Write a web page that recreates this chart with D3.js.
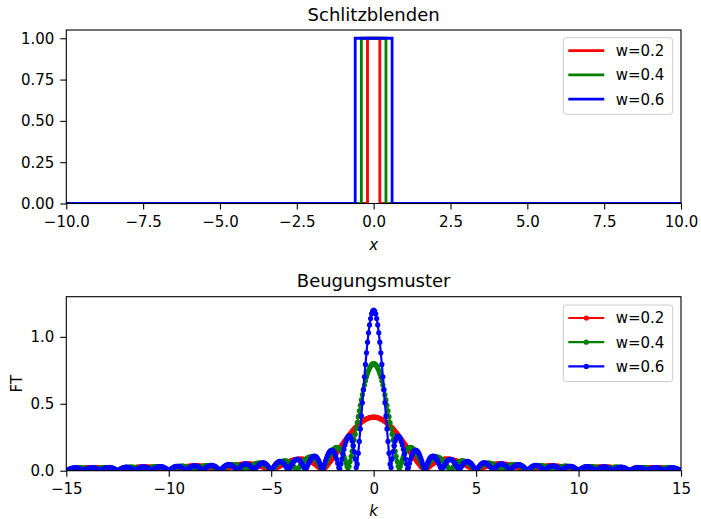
<!DOCTYPE html>
<html>
<head>
<meta charset="utf-8">
<script src="https://cdn.jsdelivr.net/npm/d3@7"></script>
<style>
  body { margin: 0; background: #fff; }
  svg { display: block; font-family: "DejaVu Sans", sans-serif; }
</style>
</head>
<body>
<script>
// slit apertures (upper plot): one polyline per slit, height 1 inside |x| < w
const slitY = [0, 0, 1, 1, 0, 0];
const slitRedX = [-10, -0.2, -0.2, 0.2, 0.2, 10];
const slitGreenX = [-10, -0.4, -0.4, 0.4, 0.4, 10];
const slitBlueX = [-10, -0.6, -0.6, 0.6, 0.6, 10];

const labels = ["w=0.2", "w=0.4", "w=0.6"];
const colors = ["#ff0000", "#008000", "#0000ff"];

// diffraction patterns (lower plot), read off for k = 0, 0.05, ... 15
// the pattern is symmetric in k, so the k < 0 half is the mirror image
const kStep = 0.05;
const ftRed = [
  .400,.400,.399,.398,.396,.393,.391,.387,.383,.379,.374,.369,.363,.357,.350,.343,.336,.328,.320,.312,
  .303,.294,.284,.275,.265,.255,.244,.234,.223,.213,.202,.191,.180,.169,.158,.147,.136,.125,.115,.104,
  .094,.083,.073,.063,.053,.044,.034,.025,.017,.008,0,
  .008,.015,.022,.029,.036,.042,.048,.053,.058,.062,.067,.070,.074,.077,.079,.082,.083,.085,.086,.087,
  .087,.087,.087,.086,.085,.084,.082,.080,.078,.076,.073,.070,.067,.064,.061,.057,.053,.050,.046,.042,
  .038,.033,.029,.025,.021,.017,.012,.008,.004,0,
  .004,.008,.012,.015,.019,.022,.025,.028,.031,.034,.037,.039,.041,.043,.045,.046,.048,.049,.050,.050,
  .051,.051,.051,.051,.051,.050,.050,.049,.048,.047,.045,.044,.042,.040,.038,.036,.034,.032,.029,.027,
  .024,.022,.019,.016,.014,.011,.008,.005,.003,0,
  .003,.005,.008,.010,.013,.015,.017,.019,.021,.023,.025,.027,.029,.030,.031,.032,.033,.034,.035,.036,
  .036,.036,.037,.037,.036,.036,.036,.035,.034,.034,.033,.032,.030,.029,.028,.026,.025,.023,.021,.020,
  .018,.016,.014,.012,.010,.008,.006,.004,.002,0,
  .002,.004,.006,.008,.010,.011,.013,.015,.016,.018,.019,.021,.022,.023,.024,.025,.026,.026,.027,.027,
  .028,.028,.028,.028,.028,.028,.028,.027,.027,.026,.026,.025,.024,.023,.022,.021,.020,.018,.017,.016,
  .014,.013,.011,.010,.008,.006,.005,.003,.002,0,
  .002,.003,.005,.006,.008,.009,.011,.012,.013,.014,.016,.017,.018,.019,.019,.020,.021,.022,.022,.022,
  .023,.023,.023,.023,.023,.023,.023,.022,.022,.022,.021,.020,.020,.019,.018,.017,.016,.015,.014,.013,
  .012,.011,.009,.008,.007,.005,.004,.003,.001,0
];
const ftGreen = [
  .800,.798,.792,.781,.767,.748,.726,.701,.672,.640,.605,.568,.529,.489,.447,.404,.360,.316,.273,.229,
  .187,.146,.107,.069,.033,0,.031,.059,.084,.106,.125,.141,.153,.163,.169,.173,.174,.172,.167,.160,
  .151,.141,.128,.114,.099,.083,.067,.050,.033,.016,0,
  .016,.030,.044,.057,.068,.078,.086,.093,.098,.101,.103,.102,.101,.098,.093,.087,.080,.072,.063,.053,
  .043,.033,.022,.011,0,.010,.021,.030,.039,.047,.054,.060,.065,.069,.071,.073,.073,.072,.070,.067,
  .063,.058,.053,.046,.039,.032,.024,.016,.008,0,
  .008,.016,.023,.029,.036,.041,.046,.050,.053,.055,.056,.057,.056,.055,.053,.050,.046,.042,.037,.031,
  .025,.019,.013,.006,0,.006,.012,.018,.024,.029,.033,.037,.040,.043,.045,.046,.046,.046,.045,.043,
  .041,.038,.034,.030,.026,.021,.016,.011,.005,0,
  .005,.010,.015,.020,.024,.028,.031,.034,.036,.038,.039,.039,.039,.038,.037,.035,.032,.029,.026,.022,
  .018,.014,.009,.005,0,.005,.009,.013,.017,.021,.024,.027,.029,.031,.033,.034,.034,.034,.033,.032,
  .030,.028,.025,.022,.019,.016,.012,.008,.004,0,
  .004,.008,.012,.015,.018,.021,.024,.026,.028,.029,.030,.030,.030,.029,.028,.027,.025,.022,.020,.017,
  .014,.011,.007,.004,0,.004,.007,.010,.013,.016,.019,.021,.023,.025,.026,.027,.027,.027,.026,.025,
  .024,.022,.020,.018,.015,.012,.009,.006,.003,0,
  .003,.006,.009,.012,.015,.017,.019,.021,.022,.023,.024,.024,.024,.024,.023,.022,.020,.018,.016,.014,
  .011,.009,.006,.003,0,.003,.006,.008,.011,.013,.016,.017,.019,.020,.021,.022,.022,.022,.022,.021,
  .020,.018,.017,.015,.013,.010,.008,.005,.003,0
];
const ftBlue = [
  1.200,1.193,1.172,1.137,1.089,1.030,.960,.881,.794,.702,.605,.507,.409,.312,.219,.131,.050,.024,.088,.143,
  .187,.221,.244,.257,.261,.255,.241,.219,.192,.160,.125,.088,.050,.012,.024,.056,.085,.110,.129,.143,
  .151,.154,.151,.143,.131,.115,.095,.073,.049,.024,0,
  .023,.045,.064,.081,.094,.103,.108,.110,.107,.101,.092,.079,.064,.048,.030,.012,.006,.023,.039,.053,
  .065,.075,.081,.084,.085,.082,.077,.069,.059,.047,.034,.019,.005,.010,.023,.036,.047,.056,.063,.067,
  .069,.069,.066,.061,.054,.045,.035,.024,.012,0,
  .012,.023,.033,.042,.049,.054,.058,.059,.058,.055,.050,.044,.036,.027,.017,.007,.003,.013,.023,.031,
  .038,.044,.048,.050,.051,.050,.047,.042,.036,.029,.021,.012,.003,.006,.015,.023,.030,.036,.040,.043,
  .045,.045,.043,.040,.036,.030,.023,.016,.008,0,
  .008,.015,.022,.028,.033,.037,.039,.040,.040,.038,.035,.030,.025,.019,.012,.005,.002,.009,.016,.022,
  .027,.031,.034,.036,.036,.036,.033,.030,.026,.021,.015,.009,.002,.004,.011,.016,.022,.026,.030,.032,
  .033,.033,.032,.030,.026,.022,.017,.012,.006,0,
  .006,.012,.017,.021,.025,.028,.030,.031,.030,.029,.026,.023,.019,.014,.009,.004,.002,.007,.012,.017,
  .021,.024,.027,.028,.028,.028,.026,.024,.020,.016,.012,.007,.002,.003,.008,.013,.017,.021,.023,.025,
  .026,.026,.025,.024,.021,.018,.014,.009,.005,0,
  .005,.009,.013,.017,.020,.023,.024,.025,.024,.023,.021,.019,.015,.012,.007,.003,.001,.006,.010,.014,
  .017,.020,.022,.023,.023,.023,.021,.019,.017,.013,.010,.006,.001,.003,.007,.011,.014,.017,.019,.021,
  .022,.022,.021,.020,.017,.015,.011,.008,.004,0
];

const xTicksTop = [-10, -7.5, -5, -2.5, 0, 2.5, 5, 7.5, 10];
const yTicksTop = [0, 0.25, 0.5, 0.75, 1];
const xTicksBottom = [-15, -10, -5, 0, 5, 10, 15];
const yTicksBottom = [0, 0.5, 1];

const width = 701, height = 519;
const svg = d3.select("body").append("svg")
  .attr("width", width).attr("height", height);

const left = 66.3, right = 681;
const top1 = 30, bottom1 = 203.5;
const top2 = 296.7, bottom2 = 470.7;

// mirror a half curve into full k range
function fullCurve(half) {
  const pts = [];
  for (let i = half.length - 1; i > 0; i--) pts.push([-i * kStep, half[i]]);
  for (let i = 0; i < half.length; i++) pts.push([i * kStep, half[i]]);
  return pts;
}

function drawAxes(g, x, y, xTicks, yTicks, xFmt, yFmt, t, b) {
  const ax = g.append("g")
    .attr("transform", `translate(0,${b})`)
    .call(d3.axisBottom(x).tickValues(xTicks).tickFormat(d3.format(xFmt))
      .tickSize(6).tickPadding(7));
  const ay = g.append("g")
    .attr("transform", `translate(${left},0)`)
    .call(d3.axisLeft(y).tickValues(yTicks).tickFormat(d3.format(yFmt))
      .tickSize(6).tickPadding(6));
  [ax, ay].forEach(a => {
    a.select(".domain").remove();
    a.selectAll("line").attr("stroke", "#000").attr("stroke-width", 1.1);
    a.selectAll("text").attr("fill", "#000").style("font-size", "15px")
      .style("font-family", "DejaVu Sans");
  });
  g.append("rect")
    .attr("x", left).attr("y", t)
    .attr("width", right - left).attr("height", b - t)
    .attr("fill", "none").attr("stroke", "#000").attr("stroke-width", 1.1);
}

function drawLegend(g, ty, withMarker, lw) {
  const lg = g.append("g");
  lg.append("rect")
    .attr("x", 563.3).attr("y", ty).attr("width", 109.4).attr("height", 76.6)
    .attr("rx", 3).attr("fill", "#fff").attr("fill-opacity", 0.8)
    .attr("stroke", "#cccccc").attr("stroke-width", 1);
  labels.forEach((lab, i) => {
    const cy = ty + 13 + i * 24.2;
    lg.append("line")
      .attr("x1", 568.3).attr("x2", 604.3).attr("y1", cy).attr("y2", cy)
      .attr("stroke", colors[i]).attr("stroke-width", lw);
    if (withMarker) {
      lg.append("circle").attr("cx", 586.3).attr("cy", cy).attr("r", 2.6)
        .attr("fill", colors[i]);
    }
    lg.append("text")
      .attr("x", 615.7).attr("y", cy + 5.4)
      .style("font-size", "15px").attr("fill", "#000")
      .text(lab);
  });
}

// ---- upper plot: Schlitzblenden ----
const x1 = d3.scaleLinear().domain([-10, 10]).range([left, right]);
const y1 = d3.scaleLinear().domain([0, 1.05]).range([bottom1, top1]);

svg.append("clipPath").attr("id", "clip1").append("rect")
  .attr("x", left).attr("y", top1).attr("width", right - left).attr("height", bottom1 - top1);
svg.append("clipPath").attr("id", "clip2").append("rect")
  .attr("x", left).attr("y", top2).attr("width", right - left).attr("height", bottom2 - top2);

const g1 = svg.append("g");
const slitLine = d3.line().x(d => x1(d[0])).y(d => y1(d[1]));
[slitRedX, slitGreenX, slitBlueX].forEach((xs, i) => {
  g1.append("path")
    .datum(xs.map((v, j) => [v, slitY[j]]))
    .attr("clip-path", "url(#clip1)")
    .attr("d", slitLine)
    .attr("fill", "none")
    .attr("stroke", colors[i])
    .attr("stroke-width", 2.8);
});
drawAxes(g1, x1, y1, xTicksTop, yTicksTop, ".1f", ".2f", top1, bottom1);

svg.append("text").attr("x", (left + right) / 2).attr("y", 20.7)
  .attr("text-anchor", "middle").style("font-size", "18px").text("Schlitzblenden");
svg.append("text").attr("x", x1(0)).attr("y", 250)
  .attr("text-anchor", "middle").style("font-size", "15px").style("font-style", "italic")
  .text("x");
drawLegend(g1, 37.7, false, 2.8);

// ---- lower plot: Beugungsmuster ----
const x2 = d3.scaleLinear().domain([-15, 15]).range([left, right]);
const y2 = d3.scaleLinear().domain([0, 1.3]).range([bottom2, top2]);

const g2 = svg.append("g");
const ftLine = d3.line().x(d => x2(d[0])).y(d => y2(d[1]));
[ftRed, ftGreen, ftBlue].forEach((half, i) => {
  const pts = fullCurve(half);
  const sg = g2.append("g").attr("clip-path", "url(#clip2)");
  sg.append("path").datum(pts)
    .attr("d", ftLine)
    .attr("fill", "none")
    .attr("stroke", colors[i])
    .attr("stroke-width", 2.2);
  sg.selectAll("circle").data(pts).enter().append("circle")
    .attr("cx", d => x2(d[0]))
    .attr("cy", d => y2(d[1]))
    .attr("r", 2.6)
    .attr("fill", colors[i]);
});
drawAxes(g2, x2, y2, xTicksBottom, yTicksBottom, "d", ".1f", top2, bottom2);

svg.append("text").attr("x", (left + right) / 2).attr("y", 286.7)
  .attr("text-anchor", "middle").style("font-size", "18px").text("Beugungsmuster");
svg.append("text").attr("x", x2(0)).attr("y", 515.5)
  .attr("text-anchor", "middle").style("font-size", "15px").style("font-style", "italic")
  .text("k");
svg.append("text")
  .attr("transform", `translate(21.6,${(top2 + bottom2) / 2}) rotate(-90)`)
  .attr("text-anchor", "middle").style("font-size", "15px").text("FT");
drawLegend(g2, 305, true, 2.2);
</script>
</body>
</html>
